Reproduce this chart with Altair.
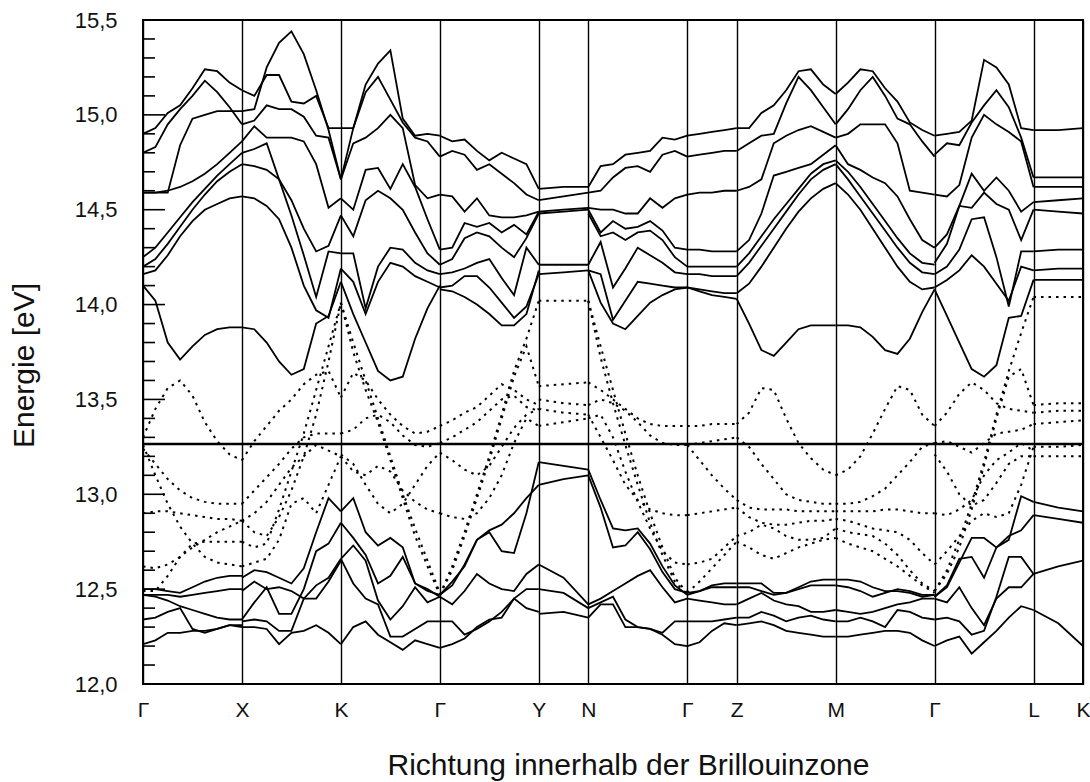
import altair as alt
import pandas as pd

# high-symmetry points along the path (segment units) and their labels
KPOS = [0, 1, 2, 3, 4, 4.5, 5.5, 6, 7, 8, 9, 9.5]
KLAB = ["Γ", "X", "K", "Γ", "Y", "N", "Γ", "Z", "M", "Γ", "L", "K"]
FERMI = 13.265
Y_LABELS = [12.0, 12.5, 13.0, 13.5, 14.0, 14.5, 15.0, 15.5]

# ---- Γ - X ----
gx_solid = [
    [14.90, 14.93, 15.01, 15.05, 15.14, 15.24, 15.23, 15.17, 15.13],
    [14.80, 14.83, 14.95, 15.03, 15.10, 15.18, 15.12, 15.04, 14.95],
    [14.59, 14.59, 14.59, 14.84, 14.98, 15.00, 15.02, 15.02, 15.02],
    [14.59, 14.59, 14.60, 14.62, 14.65, 14.69, 14.74, 14.80, 14.86],
    [14.25, 14.30, 14.38, 14.46, 14.54, 14.61, 14.68, 14.74, 14.80],
    [14.20, 14.24, 14.32, 14.41, 14.50, 14.58, 14.65, 14.70, 14.74],
    [14.16, 14.18, 14.26, 14.36, 14.44, 14.50, 14.53, 14.56, 14.57],
    [14.10, 14.02, 13.80, 13.71, 13.78, 13.84, 13.87, 13.88, 13.88],
    [12.50, 12.50, 12.49, 12.48, 12.51, 12.54, 12.56, 12.57, 12.57],
    [12.47, 12.47, 12.47, 12.46, 12.47, 12.48, 12.49, 12.50, 12.50],
    [12.47, 12.46, 12.44, 12.41, 12.39, 12.37, 12.35, 12.34, 12.34],
    [12.34, 12.35, 12.38, 12.40, 12.29, 12.27, 12.29, 12.31, 12.31],
    [12.21, 12.23, 12.27, 12.27, 12.28, 12.28, 12.29, 12.31, 12.30],
]
gx_dotted = [
    [13.30, 13.45, 13.56, 13.60, 13.52, 13.38, 13.28, 13.21, 13.18],
    [13.24, 13.16, 13.08, 13.02, 12.98, 12.96, 12.95, 12.95, 12.95],
    [13.26, 13.10, 12.95, 12.83, 12.74, 12.67, 12.64, 12.63, 12.62],
    [12.90, 12.91, 12.91, 12.90, 12.89, 12.88, 12.87, 12.87, 12.86],
    [12.62, 12.61, 12.63, 12.67, 12.72, 12.76, 12.80, 12.83, 12.86],
    [12.49, 12.49, 12.57, 12.67, 12.74, 12.75, 12.75, 12.75, 12.75],
]
# ---- X - K ----
xk_solid = [
    [15.02, 15.03, 15.25, 15.38, 15.44, 15.32, 15.13, 14.92, 14.66],
    [15.13, 15.10, 15.21, 15.21, 15.07, 15.06, 15.10, 14.93, 14.93],
    [14.95, 14.97, 15.05, 15.03, 15.03, 14.99, 14.89, 14.88, 14.66],
    [14.86, 14.94, 14.88, 14.88, 14.88, 14.86, 14.74, 14.51, 14.56],
    [14.80, 14.82, 14.85, 14.66, 14.47, 14.26, 14.04, 14.28, 14.27],
    [14.74, 14.73, 14.71, 14.66, 14.55, 14.40, 14.28, 14.31, 14.47],
    [14.57, 14.56, 14.52, 14.45, 14.30, 14.10, 13.97, 13.93, 14.19],
    [13.88, 13.87, 13.80, 13.70, 13.63, 13.66, 13.90, 13.94, 14.12],
    [12.56, 12.60, 12.59, 12.56, 12.53, 12.61, 12.80, 12.98, 12.91],
    [12.49, 12.54, 12.50, 12.51, 12.49, 12.45, 12.45, 12.54, 12.65],
    [12.34, 12.43, 12.51, 12.37, 12.37, 12.50, 12.70, 12.74, 12.85],
    [12.33, 12.34, 12.33, 12.28, 12.28, 12.45, 12.52, 12.56, 12.66],
    [12.30, 12.30, 12.29, 12.21, 12.27, 12.28, 12.31, 12.27, 12.21],
]
xk_dotted = [
    [13.18, 13.28, 13.36, 13.44, 13.50, 13.58, 13.63, 13.65, 13.51],
    [12.95, 13.02, 13.09, 13.16, 13.24, 13.30, 13.32, 13.32, 13.32],
    [12.86, 12.80, 12.78, 12.88, 13.02, 13.20, 13.42, 13.70, 14.01],
    [12.75, 12.72, 12.74, 12.92, 13.12, 13.32, 13.55, 13.78, 14.01],
    [12.62, 12.64, 12.66, 12.76, 12.95, 12.98, 12.90, 13.05, 13.20],
    [12.86, 12.90, 12.96, 13.05, 13.14, 13.20, 13.26, 13.23, 13.20],
]
# ---- K - Γ ----
kg_solid = [
    [14.66, 14.93, 15.16, 15.27, 15.34, 14.98, 14.89, 14.90, 14.89],
    [14.93, 14.93, 15.12, 15.20, 15.08, 14.96, 14.88, 14.86, 14.78],
    [14.66, 14.85, 14.88, 14.93, 15.00, 14.93, 14.63, 14.56, 14.58],
    [14.56, 14.50, 14.71, 14.72, 14.61, 14.74, 14.62, 14.45, 14.29],
    [14.47, 14.36, 14.55, 14.60, 14.56, 14.50, 14.38, 14.27, 14.21],
    [14.27, 14.27, 13.98, 14.20, 14.30, 14.29, 14.22, 14.18, 14.16],
    [14.19, 14.12, 13.95, 14.12, 14.22, 14.20, 14.15, 14.12, 14.09],
    [14.12, 13.95, 13.80, 13.65, 13.60, 13.62, 13.82, 13.98, 14.10],
    [12.91, 12.98, 12.80, 12.73, 12.77, 12.72, 12.53, 12.50, 12.46],
    [12.85, 12.77, 12.68, 12.53, 12.57, 12.67, 12.53, 12.49, 12.47],
    [12.66, 12.73, 12.65, 12.44, 12.34, 12.41, 12.51, 12.43, 12.46],
    [12.66, 12.53, 12.45, 12.42, 12.25, 12.25, 12.29, 12.33, 12.33],
    [12.21, 12.30, 12.33, 12.26, 12.22, 12.18, 12.23, 12.21, 12.19],
]
kg_dotted = [
    [14.01, 13.80, 13.60, 13.40, 13.20, 13.00, 12.82, 12.65, 12.48],
    [14.01, 13.75, 13.55, 13.38, 13.18, 12.98, 12.78, 12.62, 12.47],
    [13.51, 13.64, 13.60, 13.50, 13.42, 13.36, 13.32, 13.33, 13.36],
    [13.32, 13.34, 13.40, 13.42, 13.38, 13.31, 13.26, 13.25, 13.27],
    [13.20, 13.12, 13.10, 13.15, 13.12, 13.02, 12.96, 12.92, 12.90],
    [13.21, 13.16, 13.05, 12.95, 12.90, 12.95, 13.05, 13.15, 13.22],
]
# ---- Γ - Y ----
gy_solid = [
    [14.89, 14.86, 14.87, 14.81, 14.76, 14.80, 14.77, 14.74, 14.61],
    [14.78, 14.81, 14.79, 14.71, 14.74, 14.69, 14.64, 14.58, 14.55],
    [14.58, 14.57, 14.49, 14.56, 14.47, 14.46, 14.46, 14.47, 14.49],
    [14.29, 14.30, 14.43, 14.41, 14.43, 14.38, 14.42, 14.37, 14.49],
    [14.21, 14.24, 14.35, 14.38, 14.36, 14.30, 14.25, 14.35, 14.48],
    [14.16, 14.17, 14.19, 14.22, 14.24, 14.14, 14.05, 14.30, 14.21],
    [14.09, 14.10, 14.15, 14.15, 14.09, 14.01, 13.93, 13.99, 14.16],
    [14.08, 14.07, 14.04, 14.00, 13.95, 13.89, 13.89, 13.95, 14.18],
    [12.47, 12.52, 12.63, 12.76, 12.80, 12.70, 12.69, 12.90, 13.17],
    [12.47, 12.54, 12.62, 12.76, 12.81, 12.84, 12.90, 12.98, 13.05],
    [12.46, 12.42, 12.49, 12.58, 12.53, 12.50, 12.49, 12.58, 12.63],
    [12.33, 12.33, 12.26, 12.29, 12.33, 12.38, 12.45, 12.50, 12.50],
    [12.19, 12.21, 12.24, 12.30, 12.34, 12.35, 12.45, 12.40, 12.38],
]
gy_dotted = [
    [12.47, 12.62, 12.80, 13.00, 13.20, 13.42, 13.65, 13.82, 14.02],
    [12.47, 12.60, 12.78, 12.98, 13.18, 13.40, 13.62, 13.78, 13.57],
    [13.36, 13.39, 13.43, 13.46, 13.52, 13.58, 13.55, 13.50, 13.47],
    [13.27, 13.30, 13.34, 13.38, 13.44, 13.50, 13.52, 13.46, 13.44],
    [13.22, 13.18, 13.13, 13.10, 13.15, 13.25, 13.35, 13.42, 13.45],
    [12.90, 12.88, 12.87, 12.90, 12.98, 13.10, 13.27, 13.40, 13.36],
]
# ---- Y - N ----
yn_solid = [
    [14.61, 14.62, 14.62], [14.55, 14.57, 14.59], [14.49, 14.50, 14.51],
    [14.48, 14.49, 14.50], [14.21, 14.21, 14.21], [14.16, 14.17, 14.18],
    [13.17, 13.15, 13.13], [13.05, 13.08, 13.10], [12.63, 12.56, 12.42],
    [12.50, 12.48, 12.40], [12.37, 12.38, 12.35],
]
yn_dotted = [
    [14.02, 14.02, 14.02], [13.57, 13.58, 13.59], [13.50, 13.48, 13.47],
    [13.45, 13.43, 13.42], [13.36, 13.38, 13.40],
]
# ---- N - Γ ----
ng_solid = [
    [14.62, 14.73, 14.74, 14.79, 14.80, 14.81, 14.88, 14.87, 14.89],
    [14.59, 14.60, 14.67, 14.72, 14.73, 14.70, 14.79, 14.81, 14.78],
    [14.51, 14.50, 14.50, 14.48, 14.48, 14.56, 14.51, 14.56, 14.58],
    [14.50, 14.38, 14.44, 14.40, 14.41, 14.44, 14.39, 14.30, 14.29],
    [14.48, 14.36, 14.38, 14.34, 14.38, 14.39, 14.34, 14.25, 14.20],
    [14.21, 14.33, 14.09, 14.19, 14.30, 14.26, 14.22, 14.17, 14.16],
    [14.18, 14.16, 13.92, 14.02, 14.12, 14.11, 14.10, 14.09, 14.09],
    [14.18, 14.01, 13.90, 13.87, 13.94, 14.01, 14.05, 14.08, 14.09],
    [13.13, 12.97, 12.82, 12.81, 12.82, 12.74, 12.62, 12.52, 12.47],
    [13.10, 12.93, 12.72, 12.73, 12.80, 12.71, 12.59, 12.50, 12.48],
    [12.42, 12.45, 12.49, 12.53, 12.57, 12.60, 12.51, 12.43, 12.45],
    [12.40, 12.43, 12.46, 12.34, 12.30, 12.29, 12.26, 12.21, 12.20],
    [12.35, 12.42, 12.42, 12.30, 12.30, 12.29, 12.27, 12.33, 12.33],
]
ng_dotted = [
    [14.02, 13.78, 13.55, 13.32, 13.10, 12.90, 12.72, 12.56, 12.48],
    [14.02, 13.72, 13.48, 13.26, 13.05, 12.85, 12.68, 12.54, 12.47],
    [13.59, 13.55, 13.50, 13.45, 13.40, 13.37, 13.36, 13.36, 13.36],
    [13.47, 13.50, 13.48, 13.44, 13.38, 13.31, 13.27, 13.26, 13.26],
    [13.42, 13.30, 13.18, 13.05, 12.97, 12.92, 12.90, 12.89, 12.89],
    [13.40, 13.42, 13.30, 13.12, 12.96, 12.82, 12.70, 12.64, 12.63],
]
# ---- Γ - Z ----
gz_solid = [
    [14.89, 14.90, 14.91, 14.92, 14.93], [14.78, 14.79, 14.80, 14.81, 14.81],
    [14.58, 14.59, 14.59, 14.60, 14.60], [14.29, 14.29, 14.28, 14.28, 14.28],
    [14.20, 14.20, 14.20, 14.20, 14.20], [14.16, 14.16, 14.15, 14.15, 14.15],
    [14.09, 14.08, 14.07, 14.06, 14.06], [14.09, 14.07, 14.05, 14.04, 14.03],
    [12.48, 12.49, 12.52, 12.53, 12.53], [12.47, 12.49, 12.51, 12.51, 12.51],
    [12.45, 12.44, 12.43, 12.42, 12.42], [12.33, 12.33, 12.33, 12.34, 12.35],
    [12.20, 12.22, 12.28, 12.32, 12.31],
]
gz_dotted = [
    [13.36, 13.36, 13.37, 13.37, 13.37], [13.26, 13.27, 13.28, 13.29, 13.30],
    [13.26, 13.18, 13.10, 13.03, 12.97], [12.89, 12.90, 12.91, 12.92, 12.93],
    [12.63, 12.64, 12.66, 12.72, 12.78], [12.48, 12.54, 12.61, 12.68, 12.75],
]
# ---- Z - M ----
zm_solid = [
    [14.93, 14.93, 15.01, 15.05, 15.13, 15.23, 15.24, 15.16, 15.11],
    [14.81, 14.85, 14.89, 14.90, 15.06, 15.20, 15.13, 15.04, 14.95],
    [14.60, 14.62, 14.66, 14.85, 14.89, 14.92, 14.94, 14.91, 14.88],
    [14.28, 14.34, 14.48, 14.68, 14.70, 14.72, 14.74, 14.79, 14.84],
    [14.20, 14.27, 14.36, 14.45, 14.53, 14.61, 14.69, 14.74, 14.76],
    [14.15, 14.22, 14.31, 14.40, 14.49, 14.58, 14.66, 14.71, 14.74],
    [14.06, 14.11, 14.20, 14.30, 14.40, 14.49, 14.56, 14.61, 14.64],
    [14.03, 13.90, 13.76, 13.73, 13.80, 13.87, 13.89, 13.89, 13.89],
    [12.53, 12.53, 12.53, 12.48, 12.48, 12.51, 12.54, 12.55, 12.55],
    [12.51, 12.51, 12.49, 12.47, 12.48, 12.50, 12.52, 12.52, 12.52],
    [12.42, 12.45, 12.48, 12.44, 12.42, 12.41, 12.38, 12.38, 12.39],
    [12.35, 12.35, 12.38, 12.36, 12.33, 12.35, 12.36, 12.34, 12.33],
    [12.31, 12.32, 12.33, 12.31, 12.28, 12.27, 12.26, 12.25, 12.25],
]
zm_dotted = [
    [13.37, 13.43, 13.56, 13.55, 13.40, 13.27, 13.19, 13.13, 13.10],
    [13.30, 13.25, 13.16, 13.08, 13.00, 12.97, 12.96, 12.95, 12.95],
    [12.97, 12.93, 12.92, 12.92, 12.92, 12.91, 12.91, 12.91, 12.91],
    [12.93, 12.88, 12.85, 12.84, 12.84, 12.85, 12.86, 12.86, 12.87],
    [12.78, 12.80, 12.84, 12.82, 12.78, 12.76, 12.76, 12.77, 12.82],
    [12.75, 12.72, 12.68, 12.66, 12.69, 12.72, 12.74, 12.76, 12.77],
]
# ---- M - Γ ----
mg_solid = [
    [15.11, 15.17, 15.24, 15.23, 15.14, 15.07, 14.96, 14.92, 14.89],
    [14.95, 15.03, 15.13, 15.20, 15.10, 14.98, 14.95, 14.86, 14.78],
    [14.88, 14.90, 14.95, 14.95, 14.95, 14.85, 14.60, 14.59, 14.58],
    [14.84, 14.74, 14.71, 14.67, 14.64, 14.57, 14.45, 14.34, 14.30],
    [14.76, 14.70, 14.62, 14.53, 14.44, 14.35, 14.27, 14.22, 14.21],
    [14.74, 14.66, 14.57, 14.48, 14.39, 14.30, 14.22, 14.17, 14.16],
    [14.64, 14.58, 14.50, 14.40, 14.30, 14.20, 14.12, 14.08, 14.09],
    [13.89, 13.89, 13.88, 13.83, 13.76, 13.74, 13.82, 13.96, 14.08],
    [12.55, 12.55, 12.54, 12.51, 12.49, 12.49, 12.48, 12.46, 12.47],
    [12.52, 12.51, 12.49, 12.46, 12.48, 12.50, 12.49, 12.47, 12.47],
    [12.39, 12.38, 12.37, 12.38, 12.40, 12.42, 12.43, 12.45, 12.45],
    [12.33, 12.33, 12.35, 12.33, 12.30, 12.39, 12.38, 12.35, 12.34],
    [12.25, 12.25, 12.26, 12.27, 12.28, 12.28, 12.27, 12.23, 12.20],
]
mg_dotted = [
    [13.10, 13.13, 13.20, 13.32, 13.45, 13.57, 13.55, 13.42, 13.36],
    [12.95, 12.95, 12.96, 12.99, 13.03, 13.10, 13.17, 13.25, 13.27],
    [12.91, 12.91, 12.91, 12.91, 12.92, 12.92, 12.91, 12.90, 12.90],
    [12.87, 12.86, 12.84, 12.82, 12.81, 12.80, 12.76, 12.69, 12.63],
    [12.82, 12.80, 12.79, 12.78, 12.74, 12.68, 12.60, 12.53, 12.49],
    [12.77, 12.74, 12.72, 12.70, 12.66, 12.62, 12.57, 12.52, 12.48],
]
# ---- Γ - L ----
gl_solid = [
    [14.89, 14.90, 14.91, 14.97, 15.29, 15.25, 15.16, 14.93, 14.92],
    [14.79, 14.85, 14.84, 14.96, 15.05, 15.13, 15.04, 14.88, 14.67],
    [14.58, 14.57, 14.63, 14.88, 15.00, 14.95, 14.91, 14.86, 14.62],
    [14.30, 14.37, 14.52, 14.69, 14.60, 14.67, 14.60, 14.49, 14.54],
    [14.22, 14.32, 14.52, 14.51, 14.59, 14.53, 14.50, 14.34, 14.50],
    [14.16, 14.20, 14.29, 14.45, 14.46, 14.25, 13.99, 14.28, 14.28],
    [14.09, 14.13, 14.18, 14.26, 14.20, 14.11, 14.02, 14.20, 14.18],
    [14.08, 13.94, 13.80, 13.66, 13.62, 13.68, 13.93, 13.94, 14.13],
    [12.46, 12.51, 12.64, 12.77, 12.77, 12.72, 12.76, 12.99, 12.96],
    [12.46, 12.52, 12.66, 12.67, 12.56, 12.72, 12.78, 12.81, 12.89],
    [12.45, 12.43, 12.51, 12.40, 12.31, 12.45, 12.51, 12.51, 12.58],
    [12.34, 12.35, 12.33, 12.26, 12.28, 12.46, 12.67, 12.67, 12.58],
    [12.20, 12.23, 12.25, 12.16, 12.22, 12.28, 12.35, 12.41, 12.39],
]
gl_dotted = [
    [12.49, 12.60, 12.76, 12.95, 13.17, 13.42, 13.65, 13.85, 14.04],
    [12.49, 12.58, 12.72, 12.92, 13.15, 13.40, 13.62, 13.66, 13.47],
    [13.36, 13.43, 13.53, 13.59, 13.55, 13.48, 13.45, 13.44, 13.43],
    [13.27, 13.28, 13.25, 13.22, 13.27, 13.32, 13.33, 13.34, 13.37],
    [13.21, 13.12, 13.00, 12.94, 12.97, 13.06, 13.16, 13.20, 13.20],
    [12.90, 12.89, 12.92, 12.97, 13.10, 13.18, 13.22, 13.27, 13.23],
    [12.63, 12.70, 12.78, 12.86, 12.90, 12.88, 12.90, 13.05, 13.25],
]
# ---- L - K ----
lk_solid = [
    [14.92, 14.92, 14.93], [14.67, 14.67, 14.67], [14.62, 14.62, 14.62],
    [14.54, 14.55, 14.56], [14.50, 14.49, 14.48], [14.28, 14.29, 14.29],
    [14.18, 14.19, 14.19], [14.13, 14.13, 14.13],
    [12.96, 12.93, 12.91], [12.89, 12.87, 12.85], [12.58, 12.62, 12.65],
    [12.39, 12.32, 12.20],
]
lk_dotted = [
    [14.04, 14.04, 14.04], [13.47, 13.48, 13.48], [13.43, 13.44, 13.44],
    [13.37, 13.38, 13.39], [13.25, 13.25, 13.26], [13.20, 13.20, 13.20],
]

SEGMENTS = [
    (gx_solid, gx_dotted), (xk_solid, xk_dotted), (kg_solid, kg_dotted),
    (gy_solid, gy_dotted), (yn_solid, yn_dotted), (ng_solid, ng_dotted),
    (gz_solid, gz_dotted), (zm_solid, zm_dotted), (mg_solid, mg_dotted),
    (gl_solid, gl_dotted), (lk_solid, lk_dotted),
]

rows = []
for s, (solid, dotted) in enumerate(SEGMENTS):
    a, b = KPOS[s], KPOS[s + 1]
    for style, curves in (("solid", solid), ("dotted", dotted)):
        for c, vals in enumerate(curves):
            n = len(vals)
            for j, e in enumerate(vals):
                rows.append({"k": a + (b - a) * j / (n - 1), "E": e,
                             "band": f"{s}-{style}-{c}", "style": style})
df = pd.DataFrame(rows)

FONT = "Liberation Sans"
lab_js = "[" + ",".join(f"'{l}'" for l in KLAB) + "]"
pos_js = "[" + ",".join(str(p) for p in KPOS) + "]"

xscale = alt.Scale(domain=[0, 9.5], nice=False, zero=False)
yscale = alt.Scale(domain=[12.0, 15.5], nice=False, zero=False)

xaxis = alt.Axis(values=KPOS, labelExpr=f"{lab_js}[indexof({pos_js}, datum.value)]",
                 grid=True, gridColor="black", gridWidth=1.4, gridOpacity=1,
                 ticks=False, tickSize=0, domain=False, labelOverlap=False, labelFlush=False,
                 labelFont=FONT, labelFontSize=21, labelColor="#111", labelPadding=15,
                 title="Richtung innerhalb der Brillouinzone", titleFont=FONT,
                 titleFontSize=30, titleFontWeight="normal", titleColor="#111",
                 titleX=485, titleY=90, titleAlign="center", titleBaseline="alphabetic")
yaxis = alt.Axis(values=Y_LABELS, labelExpr="replace(format(datum.value, '.1f'), '.', ',')",
                 grid=False, ticks=False, tickSize=0, domain=False,
                 labelFont=FONT, labelFontSize=22, labelColor="#111", labelPadding=26,
                 title="Energie [eV]", titleFont=FONT, titleFontSize=30,
                 titleFontWeight="normal", titleColor="#111",
                 titleX=-119, titleY=345, titleAngle=270, titleAlign="center",
                 titleBaseline="middle")

X = alt.X("k:Q", scale=xscale, axis=xaxis)
Y = alt.Y("E:Q", scale=yscale, axis=yaxis)

solid = alt.Chart(df[df["style"] == "solid"]).mark_line(
    color="black", strokeWidth=1.8, clip=True).encode(x=X, y=Y, detail="band:N")
dotted = alt.Chart(df[df["style"] == "dotted"]).mark_line(
    color="black", strokeWidth=2, strokeDash=[2.5, 5], clip=True).encode(x=X, y=Y, detail="band:N")

minor_vals = [round(12.0 + 0.1 * i, 1) for i in range(36) if i % 5 != 0]
ticks_minor = alt.Chart(pd.DataFrame({"E": minor_vals})).mark_rule(
    color="black", strokeWidth=1.6).encode(y=Y, x=alt.value(0), x2=alt.value(12))
ticks_major = alt.Chart(pd.DataFrame({"E": Y_LABELS})).mark_rule(
    color="black", strokeWidth=1.6).encode(y=Y, x=alt.value(0), x2=alt.value(22))
fermi = alt.Chart(pd.DataFrame({"E": [FERMI]})).mark_rule(
    color="black", strokeWidth=2.5).encode(y=Y)

chart = alt.layer(ticks_minor, ticks_major, dotted, solid, fermi).properties(
    width=940, height=664,
    autosize=alt.AutoSizeParams(type="none"),
    padding={"left": 143, "top": 20, "right": 7, "bottom": 98},
    background="white",
).configure_view(stroke="black", strokeWidth=2)

chart.save("out.html", embed_options={"renderer": "svg", "actions": False})
